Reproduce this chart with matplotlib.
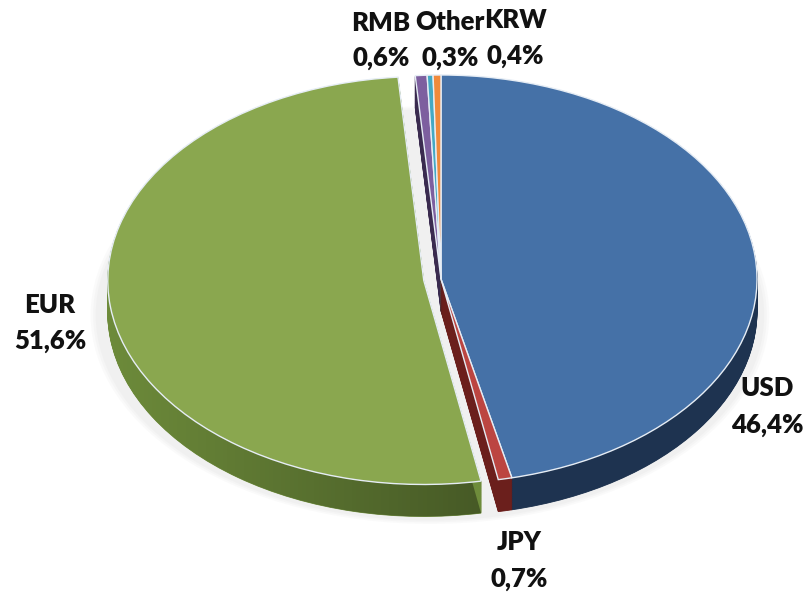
import numpy as np
import matplotlib
matplotlib.use("Agg")
import matplotlib.pyplot as plt
from matplotlib.patches import Ellipse

# Currency shares (%), clockwise from 12 o'clock
currencies = ["USD", "JPY", "EUR", "RMB", "Other", "KRW"]
shares = [46.4, 0.7, 51.6, 0.6, 0.3, 0.4]

top_colors = ["#4571A7", "#BC4541", "#8AA74F", "#7D5F9F", "#44A9C4", "#F08A3C"]
side_colors = ["#1E3350", "#6B1F1C", "#6E8C3B", "#3A2B4F", "#2A6B7C", "#9A5520"]
explode = [0, 0, 0.055, 0, 0, 0]

W, H = 809, 595
fig = plt.figure(figsize=(W / 100, H / 100), dpi=100)
ax = fig.add_axes([0, 0, 1, 1])

# pie geometry in pixels: centre, semi-axes of the tilted top face, thickness
cx, cy, rx, ry, depth = 441, 279, 316, 204, 32
dz = depth / ry
x_lo, x_hi = -cx / rx, (W - cx) / rx
y_lo, y_hi = (cy - H) / ry, cy / ry

# faint shadow below the disc
for i in range(3):
    g = 0.008 * (i + 1)
    ax.add_patch(Ellipse((-0.035, -dz - 0.02), 2.0 + 0.1 + 2 * g, 2.0 + 2 * g,
                         facecolor="#808080", edgecolor="none", alpha=0.035, zorder=0))

# extruded side: stack of darker copies shifted downward
n_layers = 48
bottom_wedges = None
for k in range(n_layers, 0, -1):
    off = dz * k / n_layers
    wedges, _ = ax.pie(shares, explode=explode, colors=side_colors, startangle=90,
                       counterclock=False, center=(0, -off), radius=1,
                       wedgeprops=dict(linewidth=0.6))
    for w, c in zip(wedges, side_colors):
        w.set_edgecolor(c)
        w.set_zorder(1)
    if bottom_wedges is None:
        bottom_wedges = wedges

# horizontal shading across the side of the largest slice
ramp = np.linspace(0, 1, 256)[None, :]
shade = np.zeros((1, 256, 4))
shade[..., 3] = np.clip((ramp - 0.12) / 0.5, 0, 1) * 0.38
im = ax.imshow(shade, extent=(x_lo, x_hi, y_lo, y_hi), aspect="auto",
               interpolation="bilinear", zorder=1.5)
im.set_clip_path(bottom_wedges[currencies.index("EUR")])

# top face
wedges, _ = ax.pie(shares, explode=explode, colors=top_colors, startangle=90,
                   counterclock=False, center=(0, 0), radius=1,
                   wedgeprops=dict(linewidth=1.0, edgecolor="#E6EDF5"))
for w in wedges:
    w.set_zorder(2)

ax.set_aspect("auto")
ax.set_xlim(x_lo, x_hi)
ax.set_ylim(y_lo, y_hi)
ax.axis("off")

# label placement (pixel centres of name line and value line)
label_pos = {
    "USD": (767, 388, 425),
    "JPY": (519, 542, 579),
    "EUR": (50, 305, 341),
    "RMB": (381, 23, 58),
    "Other": (450, 22, 58),
    "KRW": (515, 20, 56),
}
font = dict(family=["Lato", "DejaVu Sans"], fontweight="heavy", fontsize=18.5,
            color="#111111", ha="center", va="center")
for name, val in zip(currencies, shares):
    x, y1, y2 = label_pos[name]
    fig.text(x / W, 1 - y1 / H, name, **font)
    fig.text(x / W, 1 - y2 / H, f"{val:.1f}%".replace(".", ","), **font)

fig.savefig("out.png", dpi=100, facecolor="white")
